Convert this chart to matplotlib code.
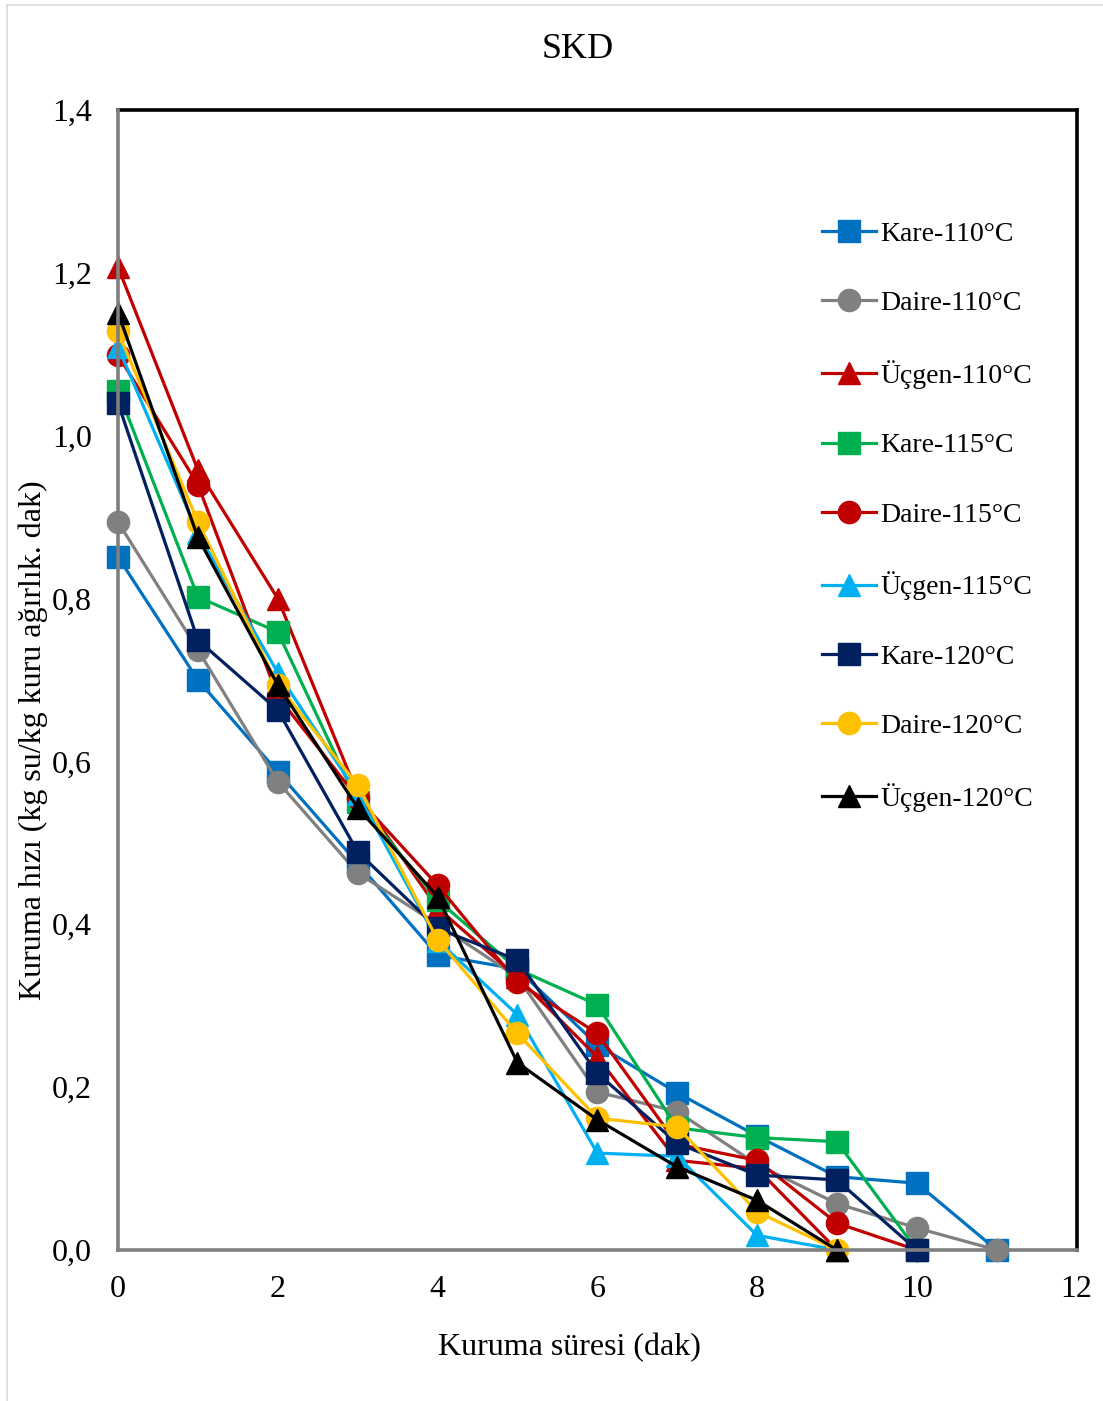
import matplotlib
matplotlib.use("Agg")
import matplotlib.pyplot as plt
from matplotlib.lines import Line2D
from matplotlib.ticker import FuncFormatter

plt.rcParams["font.family"] = ["Liberation Serif", "DejaVu Serif"]

# drying time (min)
t = [0, 1, 2, 3, 4, 5, 6, 7, 8, 9, 10, 11]

kare_110 = [0.851, 0.700, 0.587, 0.475, 0.362, 0.345, 0.252, 0.193, 0.140, 0.090, 0.082, 0.0]
daire_110 = [0.894, 0.737, 0.575, 0.463, 0.400, 0.335, 0.194, 0.170, 0.105, 0.057, 0.027, 0.0]
ucgen_110 = [1.207, 0.958, 0.800, 0.560, 0.420, 0.335, 0.237, 0.110, 0.100, 0.0]
kare_115 = [1.055, 0.802, 0.759, 0.550, 0.430, 0.345, 0.301, 0.150, 0.138, 0.133, 0.0]
daire_115 = [1.099, 0.940, 0.680, 0.555, 0.448, 0.329, 0.266, 0.130, 0.110, 0.033, 0.0]
ucgen_115 = [1.109, 0.880, 0.709, 0.560, 0.380, 0.289, 0.119, 0.115, 0.018, 0.0]
kare_120 = [1.040, 0.749, 0.663, 0.489, 0.395, 0.356, 0.217, 0.131, 0.092, 0.086, 0.0]
daire_120 = [1.128, 0.894, 0.694, 0.571, 0.381, 0.266, 0.162, 0.151, 0.047, 0.0]
ucgen_120 = [1.151, 0.875, 0.694, 0.543, 0.434, 0.230, 0.160, 0.102, 0.061, 0.0]

series = [
    ("Kare-110°C", kare_110, "#0070C0", "s"),
    ("Daire-110°C", daire_110, "#808080", "o"),
    ("Üçgen-110°C", ucgen_110, "#C00000", "^"),
    ("Kare-115°C", kare_115, "#00B050", "s"),
    ("Daire-115°C", daire_115, "#C00000", "o"),
    ("Üçgen-115°C", ucgen_115, "#00B0F0", "^"),
    ("Kare-120°C", kare_120, "#002060", "s"),
    ("Daire-120°C", daire_120, "#FFC000", "o"),
    ("Üçgen-120°C", ucgen_120, "#000000", "^"),
]

fig = plt.figure(figsize=(11.03, 14.01), dpi=100)
ax = fig.add_axes([0.107, 0.1078, 0.869, 0.8137])

for label, y, color, marker in series:
    ax.plot(t[:len(y)], y, color=color, marker=marker, markersize=16,
            linewidth=2.3, label=label, clip_on=False)

ax.set_xlim(0, 12)
ax.set_ylim(0, 1.4)
ax.set_xticks(range(0, 13, 2))
ax.set_yticks([0, 0.2, 0.4, 0.6, 0.8, 1.0, 1.2, 1.4])
ax.yaxis.set_major_formatter(FuncFormatter(lambda v, p: f"{v:.1f}".replace(".", ",")))
ax.tick_params(length=0, labelsize=23)
ax.tick_params(axis="y", pad=19)
ax.tick_params(axis="x", pad=18)

for side in ("top", "right"):
    ax.spines[side].set_color("black")
    ax.spines[side].set_linewidth(2.6)
for side in ("left", "bottom"):
    ax.spines[side].set_color("#7f7f7f")
    ax.spines[side].set_linewidth(2.6)
    ax.spines[side].set_zorder(3)

fig.text(578 / 1103, 1 - 49 / 1401, "SKD", fontsize=26, ha="center", va="center")

ax.set_xlabel("Kuruma süresi (dak)", fontsize=23, va="center")
ax.xaxis.set_label_coords((570 - 118) / 959, (1250 - 1348) / 1140)
ax.set_ylabel("Kuruma hızı (kg su/kg kuru ağırlık. dak)", fontsize=23, va="center")
ax.yaxis.set_label_coords((33 - 118) / 959, (1250 - 740) / 1140)

ax.legend(loc="upper left", bbox_to_anchor=(0.7225, 0.912), frameon=False,
          fontsize=20, handlelength=1.95, handletextpad=0.15,
          labelspacing=1.58, borderaxespad=0)

# thin grey frame around the chart area
fig.add_artist(Line2D([7 / 1103, 7 / 1103], [0, 1 - 5 / 1401], color="#d9d9d9",
                      linewidth=1.2, transform=fig.transFigure))
fig.add_artist(Line2D([7 / 1103, 1], [1 - 5 / 1401, 1 - 5 / 1401], color="#d9d9d9",
                      linewidth=1.2, transform=fig.transFigure))

fig.savefig("out.png", dpi=100, facecolor="white")
